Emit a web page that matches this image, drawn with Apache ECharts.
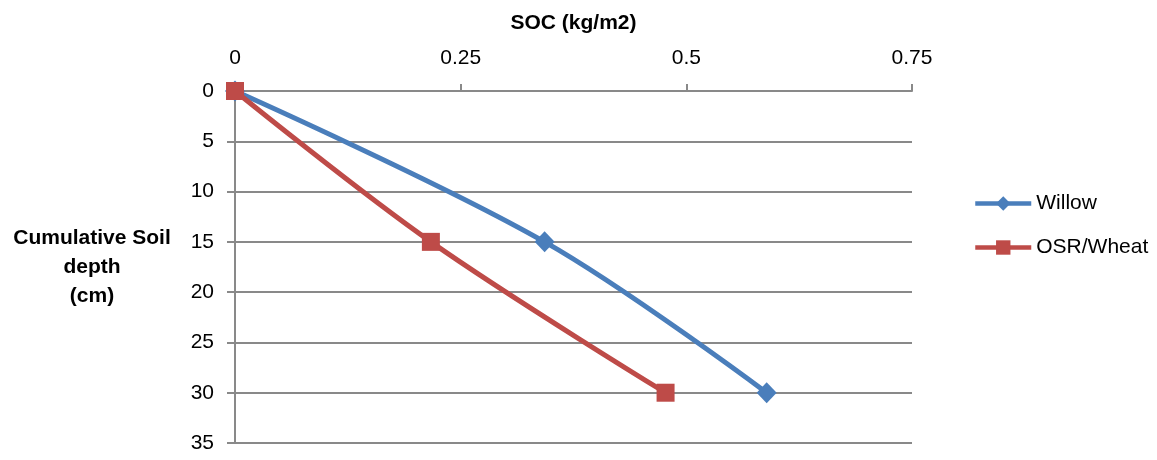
<!DOCTYPE html>
<html style="height: 100%">
<head>
<meta charset="utf-8">
<script src="https://cdn.jsdelivr.net/npm/echarts@6/dist/echarts.min.js"></script>
</head>
<body style="width: 100%; height: 100%; margin: 0; background: #fff;">
<div id="container" style="width: 1157px; height: 460px;"></div>
<script type="text/javascript">
	// depth (cm) and SOC (kg/m2)
	var depths = [0, 15, 30];
	var willowSoc = [0, 0.343, 0.589];
	var osrSoc = [0, 0.217, 0.477];
	var seriesNames = ['Willow', 'OSR/Wheat'];

	function pairs(xs, ys) {
		var out = [];
		for (var i = 0; i < xs.length; i++) {
			out.push([xs[i], ys[i]]);
		}
		return out;
	}

	var font = 'Liberation Sans';
	var gray = '#898989';
	var myChart = echarts.init(document.getElementById('container'));
	var option = {
		animation: false,
		grid: {
			left: 235,
			right: 245,
			top: 91,
			bottom: 17,
			outerBoundsMode: 'none'
		},
		legend: {
			orient: 'vertical',
			left: 968,
			top: 188,
			itemWidth: 56,
			itemHeight: 18,
			itemGap: 23,
			data: seriesNames,
			lineStyle: { width: 4.5 },
			textStyle: {
				fontFamily: font,
				fontSize: 21,
				color: '#000'
			}
		},
		xAxis: {
			type: 'value',
			position: 'top',
			min: 0,
			max: 0.75,
			interval: 0.25,
			name: 'SOC (kg/m2)',
			nameLocation: 'middle',
			nameGap: 57,
			nameTextStyle: {
				fontFamily: font,
				fontSize: 21,
				fontWeight: 'bold',
				color: '#000'
			},
			axisLine: { show: true, lineStyle: { color: gray, width: 2 } },
			axisTick: { show: true, length: 7, lineStyle: { color: gray, width: 2 } },
			axisLabel: {
				margin: 22,
				fontFamily: font,
				fontSize: 21,
				color: '#000'
			},
			splitLine: { show: false }
		},
		yAxis: {
			type: 'value',
			inverse: true,
			min: 0,
			max: 35,
			interval: 5,
			name: 'Cumulative Soil\ndepth\n(cm)',
			nameLocation: 'middle',
			nameRotate: 0,
			nameGap: 143,
			nameTextStyle: {
				fontFamily: font,
				fontSize: 21,
				fontWeight: 'bold',
				color: '#000',
				align: 'center',
				verticalAlign: 'middle',
				lineHeight: 29
			},
			axisLine: { show: true, lineStyle: { color: gray, width: 2 } },
			axisTick: { show: true, length: 8, lineStyle: { color: gray, width: 2 } },
			axisLabel: {
				margin: 21,
				fontFamily: font,
				fontSize: 21,
				color: '#000'
			},
			splitLine: { show: true, lineStyle: { color: gray, width: 2 } }
		},
		series: [
			{
				name: seriesNames[0],
				type: 'line',
				data: pairs(willowSoc, depths),
				smooth: 0.35,
				symbol: 'diamond',
				symbolSize: [20, 21],
				lineStyle: { width: 5, color: '#4A7EBB' },
				itemStyle: { color: '#4A7EBB' }
			},
			{
				name: seriesNames[1],
				type: 'line',
				data: pairs(osrSoc, depths),
				smooth: 0.35,
				symbol: 'rect',
				symbolSize: 18,
				lineStyle: { width: 5, color: '#BE4B48' },
				itemStyle: { color: '#BE4B48' }
			}
		]
	};
	myChart.setOption(option);
</script>
</body>
</html>
